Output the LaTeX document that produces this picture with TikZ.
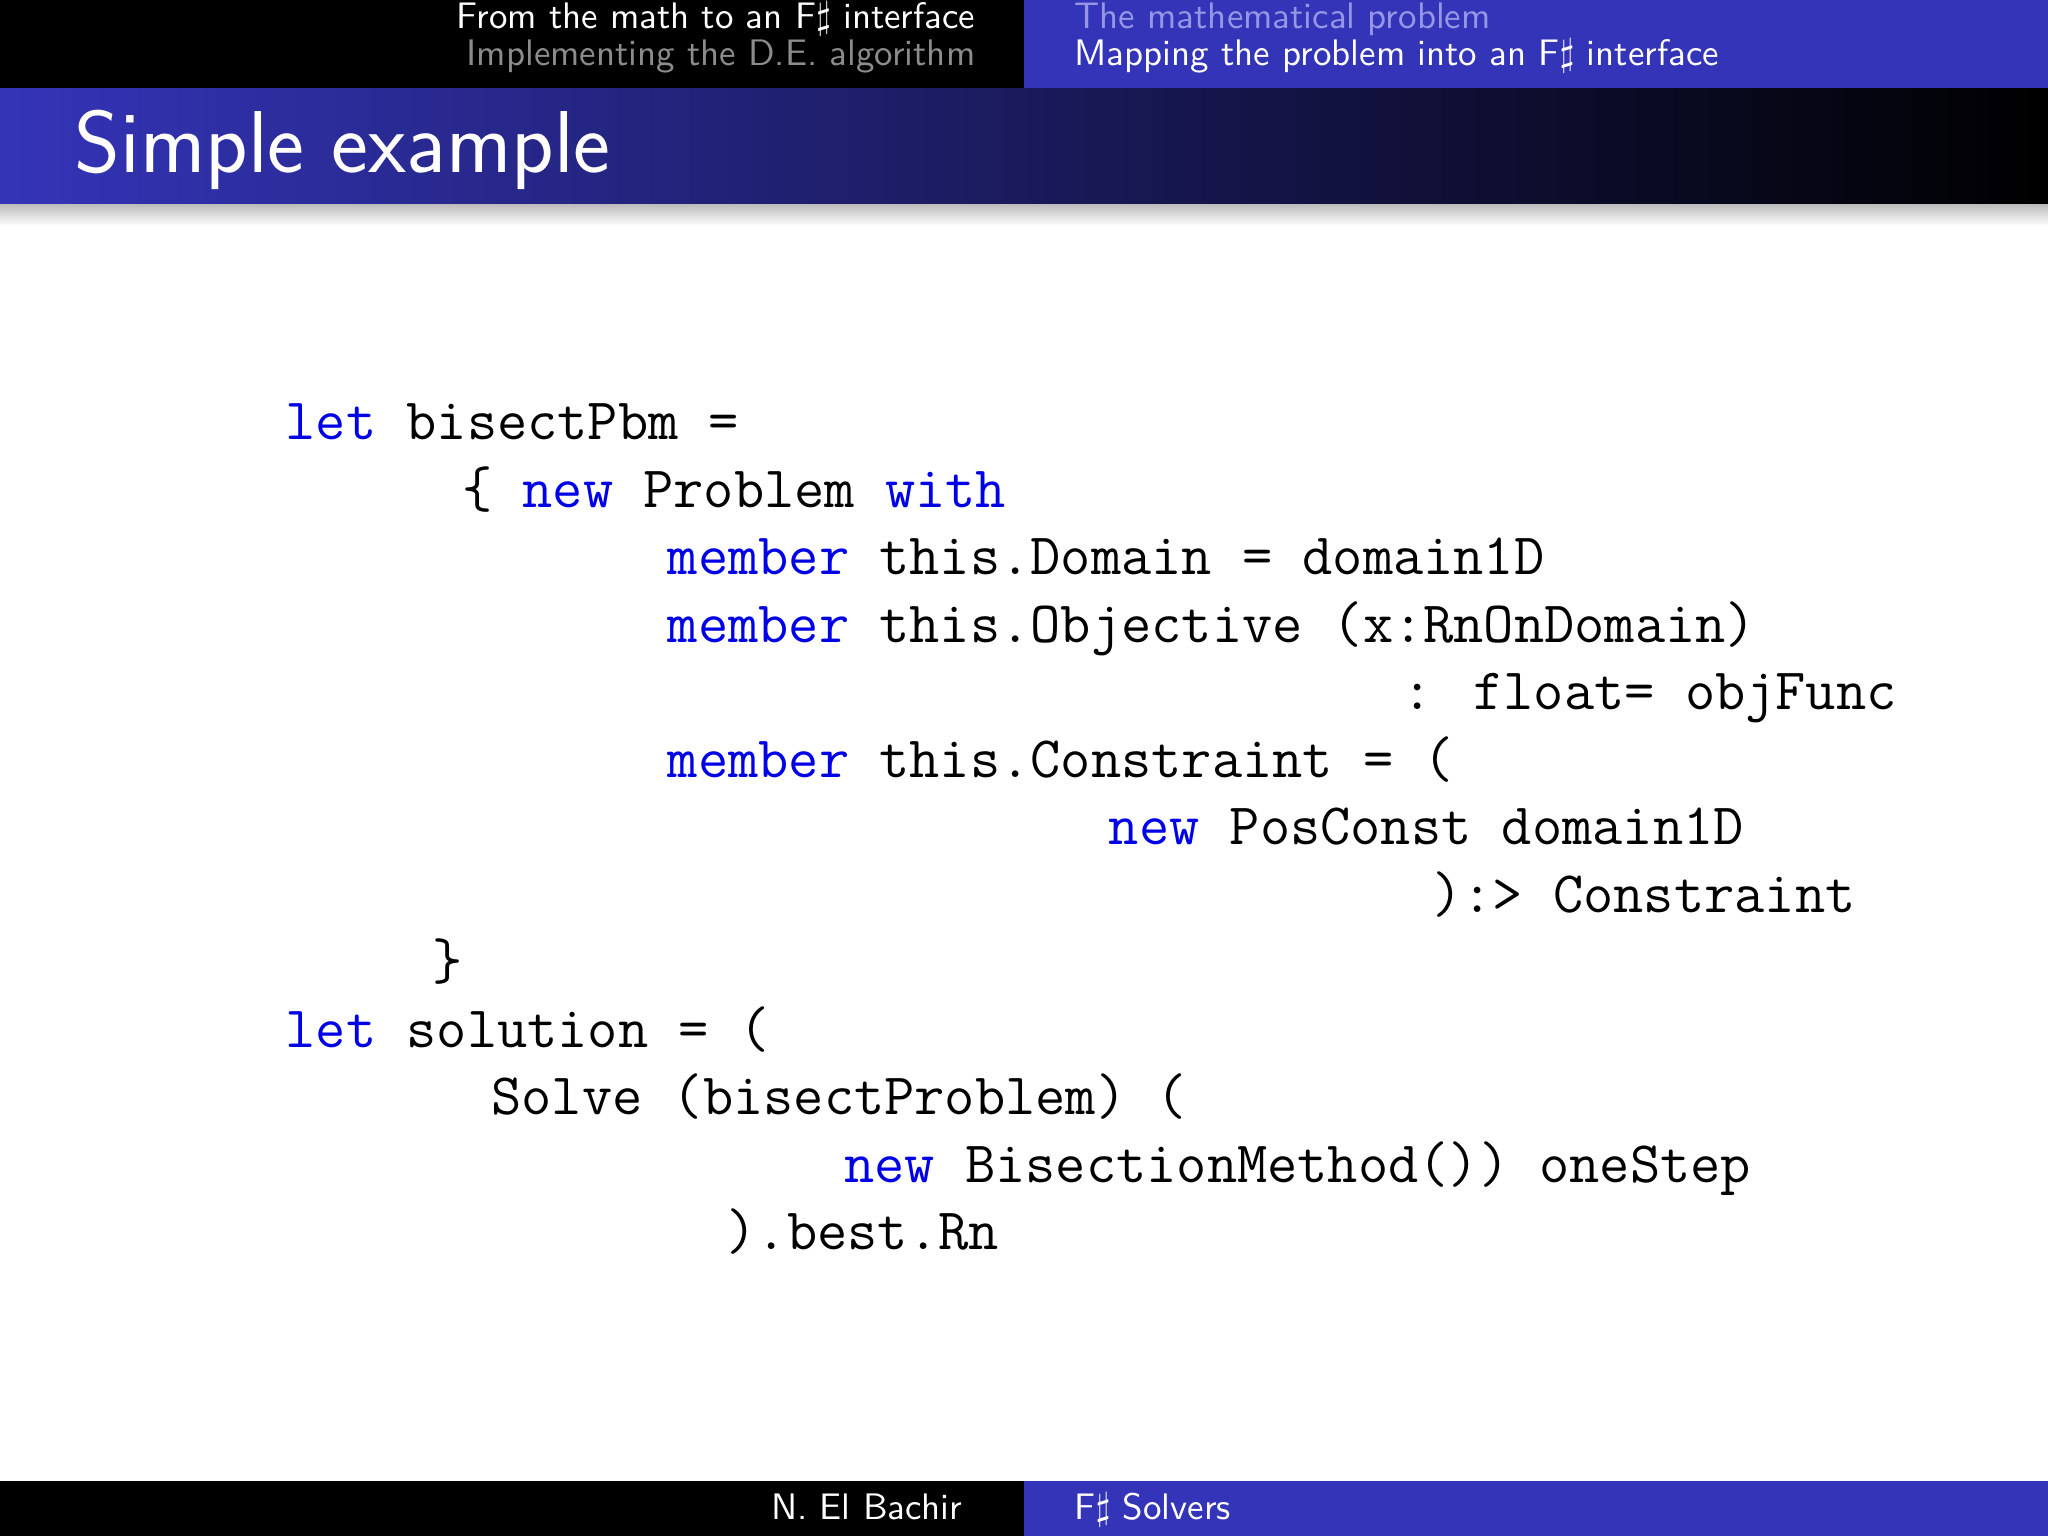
\documentclass[tikz,border=0pt]{standalone}
\usetikzlibrary{calc}
\definecolor{bbar}{RGB}{52,52,184}
\definecolor{kw}{RGB}{0,0,230}
\definecolor{lightb}{RGB}{150,150,230}
\tikzset{
  code/.style={anchor=base west,inner sep=0pt,font=\fontsize{16.7}{20}\selectfont\ttfamily},
  hdr/.style={inner sep=0pt,font=\fontsize{10.5}{12}\selectfont\sffamily},
}
\newcommand{\kw}[1]{\textcolor{kw}{#1}}
\begin{document}
\begin{tikzpicture}
\useasboundingbox (0,0) rectangle (20.48,15.36);
\fill[white] (0,0) rectangle (20.48,15.36);
% top bar
\fill[black] (0,14.472) rectangle (10.24,15.36);
\fill[bbar] (10.24,14.472) rectangle (20.48,15.36);
% title bar
\shade[left color=bbar,right color=black] (0,13.31) rectangle (20.48,14.472);
\shade[top color=black!25,bottom color=white] (0,13.1) rectangle (20.48,13.31);
% footer
\fill[black] (0,0) rectangle (10.24,0.55);
\fill[bbar] (10.24,0) rectangle (20.48,0.55);
% header texts
\node[hdr,anchor=base east,text=white] (h1) at (9.76,15.07) {From the math to an F$\sharp$ interface};
\node[hdr,anchor=base east,text=black!45] (h2) at (9.76,14.70) {Implementing the D.E. algorithm};
\node[hdr,anchor=base west,text=lightb] (h3) at (10.74,15.07) {The mathematical problem};
\node[hdr,anchor=base west,text=white] (h4) at (10.74,14.70) {Mapping the problem into an F$\sharp$ interface};
% title
\node[anchor=base west,inner sep=0pt,text=white,font=\fontsize{25}{30}\selectfont\sffamily] (title) at (0.74,13.63) {Simple example};
% footer texts
\node[hdr,anchor=base east,text=white] (f1) at (9.63,0.16) {N. El Bachir};
\node[hdr,anchor=base west,text=white] (f2) at (10.74,0.16) {F$\sharp$ Solvers};
% code
\def\cw{0.294}
\def\x{2.85}
\def\y{10.96}
\def\dy{0.675}
\node[code] (c0) at (\x+0*\cw,\y-0*\dy) {\kw{let} bisectPbm =};
\node[code] (c1) at (\x+6*\cw,\y-1*\dy) {\{ \kw{new} Problem \kw{with}};
\node[code] (c2) at (\x+13*\cw,\y-2*\dy) {\kw{member} this.Domain = domain1D};
\node[code] (c3) at (\x+13*\cw,\y-3*\dy) {\kw{member} this.Objective (x:RnOnDomain)};
\node[code] (c4) at (\x+38*\cw,\y-4*\dy) {: float= objFunc};
\node[code] (c5) at (\x+13*\cw,\y-5*\dy) {\kw{member} this.Constraint = (};
\node[code] (c6) at (\x+28*\cw,\y-6*\dy) {\kw{new} PosConst domain1D};
\node[code] (c7) at (\x+39*\cw,\y-7*\dy) {):> Constraint};
\node[code] (c8) at (\x+5*\cw,\y-8*\dy) {\}};
\node[code] (c9) at (\x+0*\cw,\y-9*\dy) {\kw{let} solution = (};
\node[code] (c10) at (\x+7*\cw,\y-10*\dy) {Solve (bisectProblem) (};
\node[code] (c11) at (\x+19*\cw,\y-11*\dy) {\kw{new} BisectionMethod()) oneStep};
\node[code] (c12) at (\x+15*\cw,\y-12*\dy) {).best.Rn};
\end{tikzpicture}
\end{document}
